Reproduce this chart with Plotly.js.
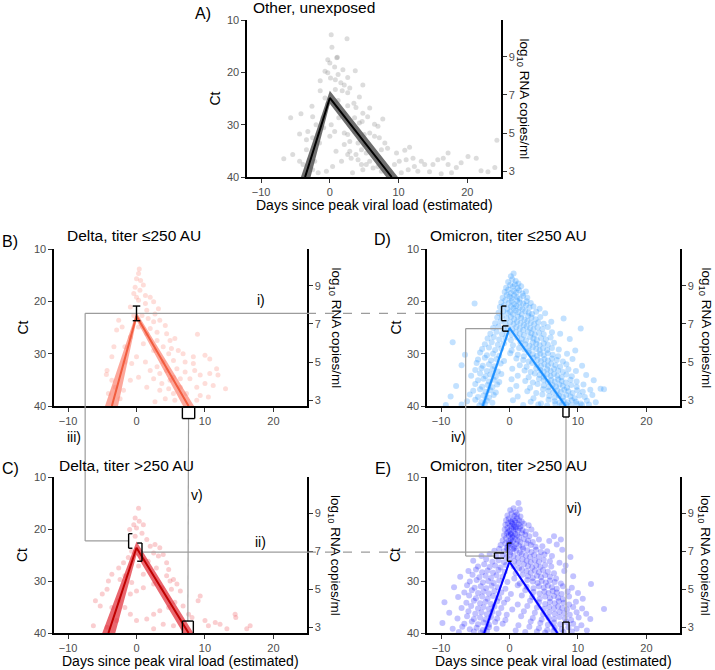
<!DOCTYPE html>
<html><head><meta charset="utf-8">
<script src="https://cdn.plot.ly/plotly-3.0.1.min.js"></script>
<style>html,body{margin:0;padding:0;background:#fff}#chart{width:715px;height:670px}</style>
</head><body><div id="chart"></div>
<script>
// ---------------- data ----------------
const panelLetters = ['A)','B)','C)','D)','E)'];
const panelTitles = ['Other, unexposed','Delta, titer \u2264250 AU','Delta, titer >250 AU','Omicron, titer \u2264250 AU','Omicron, titer >250 AU'];
const xTickVals = [-10, 0, 10, 20];
const ctTickVals = [10, 20, 30, 40];
const rnaTickVals = [3, 5, 7, 9];

// fitted trajectory (A,B,C,D,E)
const riseStart = [-3.6, -3.6, -4.1, -3.9, -3.7];
const peakCt    = [24.9, 22.8, 23.6, 25.1, 26.3];
const clearEnd  = [9.0, 7.6, 7.6, 8.2, 7.0];
// ribbons
const ribOuterStart = [-4.2, -4.6, -5.0, -4.2, -4.0];
const ribOuterPeak  = [23.5, 22.1, 22.4, 24.7, 25.9];
const ribOuterEnd   = [9.9, 8.4, 8.3, 8.5, 7.3];
const ribInnerStart = [-2.8, -2.7, -3.1, -3.6, -3.4];
const ribInnerPeak  = [26.0, 23.6, 25.0, 25.5, 26.7];
const ribInnerEnd   = [8.2, 6.8, 6.8, 7.9, 6.7];

// peak CI error bar for Delta <=250 (day, low, high)
const peakBarB = [0, 20.9, 23.7];
// vertical brackets: panel index, line day, tick day, low Ct, high Ct
const vBrackets = [
  [2, -1.15, -0.6, 20.9, 23.7],
  [2, 0.8, 0.1, 22.7, 26.2],
  [3, -1.16, -0.45, 20.9, 23.7],
  [3, -1.0, -0.15, 24.7, 25.7],
  [4, -2.2, -0.8, 24.6, 25.6],
  [4, -0.3, 0.3, 22.7, 26.2]
];
// clearance brackets: panel index, low day, high day, base Ct, tip Ct
const hBrackets = [
  [1, 6.7, 8.5, 40, 42.4],
  [2, 6.7, 8.3, 40, 37.7],
  [3, 7.8, 8.7, 40, 42.1],
  [4, 7.8, 8.7, 40, 37.9]
];
const compLabels = ['i)','ii)','iii)','iv)','v)','vi)'];

const ptsA = [[0.2,12.8],[2.5,13.6],[0.3,15.2],[1.1,17.1],[1.0,17.2],[-0.3,17.6],[0,18.2],[0.7,19.0],[1.9,19.5],[3.7,19.7],[-0.7,19.8],[-0.3,20.1],[1.2,20.4],[0.1,21.1],[0.8,21.4],[2.6,21.0],[-1.4,21.6],[1.6,22.0],[2.1,22.4],[4.8,22.4],[2.9,23.0],[-1.4,23.5],[0.8,23.3],[1.8,23.5],[2.6,23.9],[-0.7,24.9],[4.3,24.7],[1.2,25.4],[-0.3,26.0],[-2.6,26.5],[2.6,26.4],[3.5,25.9],[3.8,26.7],[5.8,26.8],[-4.2,27.9],[-2.5,28.5],[-5.7,28.7],[-1.0,28.7],[1.3,28.7],[2.1,27.8],[4.8,27.8],[5.5,28.5],[7.7,28.9],[4.7,29.4],[6.5,29.9],[7.0,30.3],[-2.0,30.0],[-3.2,31.3],[-4.4,31.8],[-1.7,31.8],[0,32.2],[2.1,31.6],[2.6,31.9],[3.6,31.3],[5.0,31.9],[5.8,31.6],[6.5,32.2],[7.2,32.5],[-3.4,32.9],[-2.5,32.5],[-1.5,33.5],[2.1,33.8],[2.9,33.2],[4.1,33.5],[5.0,33.8],[8.0,33.5],[0.9,35.1],[2.9,35.1],[3.8,35.7],[4.6,34.8],[5.3,35.4],[7.5,34.8],[8.4,34.5],[-5.4,35.7],[-6.7,36.5],[-4.4,37.0],[-3.9,37.6],[-3.0,38.0],[-2.2,37.0],[-2.5,38.6],[-1.7,39.2],[2.6,35.7],[3.1,36.4],[4.1,36.7],[4.6,37.6],[5.3,37.6],[5.8,37.0],[6.3,38.3],[7.0,38.0],[7.5,38.9],[9.7,35.4],[10.9,34.9],[11.6,34.3],[10.1,37.0],[11.1,36.7],[12.1,36.4],[12.3,38.0],[13.3,37.0],[13.8,37.6],[15.0,37.6],[15.7,36.7],[16.5,36.4],[17.2,35.4],[17.2,37.6],[18.4,38.2],[19.1,37.3],[20.1,36.1],[21.3,36.4],[22.0,38.8],[23.0,39.0],[24.0,38.2],[24.3,33.0],[10.4,39.2],[11.4,38.6],[12.8,38.9],[14.5,39.0],[16.2,39.4],[17.7,39.2],[3.3,39.2],[4.8,38.6],[8.7,39.2],[9.4,37.6],[1.7,37.0],[0.4,38.0],[-0.5,38.9],[-3.0,36.7],[-3.4,34.8],[-0.9,30.6],[0.2,30.0],[0.7,31.3],[3.6,28.7],[4.3,29.7]];

const ptsB = [[0.4,13.8],[0.3,14.7],[0,15.7],[0.6,16.0],[-0.2,17.3],[1.0,16.9],[0.5,17.9],[1.3,18.9],[-0.4,18.5],[2.0,19.2],[0.3,19.8],[2.5,20.1],[3.2,21.4],[1.5,21.7],[-0.9,21.1],[0.8,22.7],[1.7,23.3],[2.5,23.9],[3.4,23.6],[4.2,24.6],[-2.6,23.6],[-2.1,24.9],[-2.9,25.5],[0.3,24.9],[2.0,25.2],[3.0,25.9],[4.4,26.2],[4.9,27.5],[5.6,27.1],[8.9,26.3],[3.0,27.5],[1.0,28.1],[-0.9,26.8],[-1.7,28.7],[-3.3,28.7],[-3.6,30.6],[3.9,28.7],[5.1,29.0],[6.1,29.4],[6.8,30.0],[8.3,30.6],[10.0,30.3],[10.7,31.0],[8.3,31.9],[7.1,31.6],[5.4,31.3],[3.9,31.6],[3.0,32.5],[4.4,33.2],[5.9,32.9],[7.1,33.5],[8.5,33.2],[9.3,34.1],[10.7,33.8],[11.7,32.9],[11.9,34.1],[13.0,36.7],[11.2,36.1],[10.0,35.7],[8.8,36.4],[6.4,34.8],[4.9,35.1],[3.4,33.8],[3.7,35.7],[4.7,36.7],[3.4,37.0],[5.4,37.6],[7.3,37.6],[9.3,38.0],[10.5,38.3],[8.8,38.9],[4.2,38.6],[2.7,39.2],[-3.6,35.1],[-4.3,33.2],[-3.1,36.4],[-4.1,37.6],[-2.4,38.6],[-1.9,37.0],[-0.9,35.1],[-0.7,31.9],[-1.7,31.6],[0,30.6],[1.3,31.6],[2.0,33.2],[2.5,34.8],[1.5,36.4],[0.3,34.5],[5.6,38.9],[6.4,36.4],[7.8,34.8],[5.4,34.5],[4.7,30.0],[2.5,29.4],[1.5,26.2],[-0.4,22.7],[0,19.2],[1.3,20.4],[2.7,22.4],[-4.4,34.0]];

const ptsC = [[0.3,16.0],[-0.2,17.9],[0.4,18.5],[-0.4,19.2],[0,19.8],[1.0,19.2],[-1.0,20.1],[0.8,20.8],[-0.2,21.4],[1.5,22.0],[2.0,23.3],[2.7,23.0],[3.4,23.6],[2.5,24.6],[3.2,25.2],[3.9,24.9],[4.4,26.5],[1.7,26.2],[1.0,25.9],[-0.7,24.3],[-1.2,25.5],[-1.9,26.5],[-2.6,27.5],[-3.6,28.7],[-4.1,30.0],[-2.4,29.7],[-1.7,29.0],[-0.7,30.3],[4.4,29.0],[4.9,30.0],[5.4,29.7],[5.9,30.6],[6.4,31.9],[5.1,31.6],[3.7,31.3],[2.5,30.6],[1.0,31.3],[0,31.9],[-0.9,32.5],[-4.3,31.6],[-5.0,32.5],[-6.0,33.8],[-5.3,34.8],[-3.6,35.1],[-2.6,33.8],[-1.7,35.1],[-0.9,36.4],[0,37.6],[1.5,37.3],[2.5,36.4],[3.4,35.7],[4.7,35.1],[5.6,34.1],[6.8,34.8],[7.6,36.4],[8.1,37.0],[9.3,32.9],[9.0,33.8],[10.0,37.6],[10.5,38.6],[11.5,38.0],[12.2,38.3],[14.4,36.4],[14.5,37.0],[13.2,39.2],[16.1,39.2],[16.6,38.6],[3.9,38.3],[5.4,38.6],[2.5,39.2],[-2.9,37.6],[-4.3,38.9],[-6.3,38.6],[1.0,28.7],[0.3,27.1],[2.9,27.5],[4.7,27.8]];

const ptsD = [[0.2,15.2],[0.6,14.7],[-0.2,16.3],[0.4,15.8],[0.9,16.1],[1.3,16.6],[-0.5,17.4],[0.1,16.9],[0.5,17.2],[0.8,16.8],[1.2,17.5],[1.7,17.1],[-0.7,18.2],[-0.2,17.8],[0.2,18.4],[0.6,18.0],[1.0,18.3],[1.4,17.9],[1.9,18.5],[2.4,18.1],[-1.0,19.3],[-0.4,18.8],[0.0,19.1],[0.3,19.4],[0.7,18.9],[1.1,19.2],[1.5,19.5],[2.0,19.0],[2.6,19.3],[-5.1,20.4],[-1.2,20.2],[-0.6,19.8],[-0.1,20.3],[0.3,20.0],[0.7,20.5],[1.1,19.9],[1.5,20.2],[2.0,20.4],[2.5,20.0],[3.1,20.3],[-1.4,21.1],[-0.8,20.8],[-0.3,21.4],[0.2,21.0],[0.6,21.3],[1.0,20.9],[1.5,21.2],[1.9,21.5],[2.4,20.8],[2.9,21.2],[3.5,21.0],[4.4,21.4],[-1.6,22.2],[-0.9,21.9],[-0.3,22.3],[0.1,22.0],[0.5,22.4],[0.9,21.8],[1.3,22.1],[1.8,22.5],[2.3,21.9],[2.8,22.2],[3.3,22.4],[3.9,22.0],[5.2,22.3],[-1.8,23.1],[-1.1,22.8],[-0.4,23.3],[0.2,23.0],[0.7,23.4],[1.2,22.9],[1.7,23.2],[2.2,23.5],[2.7,22.8],[3.2,23.1],[3.8,23.4],[4.5,23.0],[7.9,23.3],[-2.1,24.2],[-1.3,23.8],[-0.6,24.3],[0.1,24.0],[0.6,24.4],[1.1,23.9],[1.6,24.2],[2.1,24.5],[2.6,23.8],[3.1,24.1],[3.6,24.4],[4.2,24.0],[5.0,24.3],[6.1,23.9],[-2.4,25.1],[-1.6,24.8],[-0.9,25.3],[-0.2,25.0],[0.4,25.4],[1.0,24.9],[1.5,25.2],[2.0,25.5],[2.5,24.8],[3.0,25.1],[3.5,25.4],[4.1,25.0],[4.8,25.3],[5.6,24.9],[10.4,25.2],[-2.8,26.2],[-1.9,25.8],[-1.1,26.3],[-0.4,26.0],[0.3,26.4],[0.9,25.9],[1.5,26.2],[2.1,26.5],[2.7,25.8],[3.2,26.1],[3.7,26.4],[4.3,26.0],[5.0,26.3],[6.2,25.9],[7.4,26.2],[-3.2,27.1],[-2.3,26.8],[-1.5,27.3],[-0.6,27.0],[0.2,27.4],[1.1,26.9],[1.8,27.2],[2.4,27.5],[3.0,26.8],[3.5,27.1],[4.0,27.4],[4.6,27.0],[5.3,27.3],[6.0,26.9],[8.8,27.2],[-8.3,27.8],[-3.6,28.2],[-2.6,27.8],[-1.7,28.3],[-0.8,28.0],[0.5,28.4],[1.6,27.9],[2.3,28.2],[2.9,28.5],[3.4,27.8],[3.9,28.1],[4.4,28.4],[5.0,28.0],[5.6,28.3],[6.5,27.9],[-4.0,29.1],[-3.0,28.8],[-2.1,29.3],[-1.2,29.0],[0.3,29.4],[1.4,28.9],[2.2,29.2],[2.8,29.5],[3.4,28.8],[3.9,29.1],[4.4,29.4],[4.9,29.0],[5.5,29.3],[6.2,28.9],[7.2,29.2],[9.6,29.4],[-6.5,30.2],[-4.3,29.8],[-3.3,30.3],[-2.4,30.0],[-1.5,30.4],[0.1,29.9],[1.2,30.2],[2.1,30.5],[2.8,29.8],[3.4,30.1],[4.0,30.4],[4.5,30.0],[5.0,30.3],[5.6,29.9],[6.3,30.2],[7.1,30.5],[8.4,30.0],[-4.6,31.1],[-3.6,30.8],[-2.7,31.3],[-1.9,31.0],[-0.8,31.4],[1.0,30.9],[2.0,31.2],[2.8,31.5],[3.5,30.8],[4.1,31.1],[4.6,31.4],[5.1,31.0],[5.6,31.3],[6.2,30.9],[6.9,31.2],[7.8,31.5],[9.2,31.0],[-7.0,32.2],[-4.8,31.8],[-3.9,32.3],[-3.0,32.0],[-2.2,32.4],[-1.3,31.9],[1.5,32.2],[2.5,32.5],[3.3,31.8],[4.0,32.1],[4.6,32.4],[5.1,32.0],[5.6,32.3],[6.1,31.9],[6.7,32.2],[7.4,32.5],[8.3,32.0],[10.6,32.3],[-5.0,33.1],[-4.1,32.8],[-3.3,33.3],[-2.5,33.0],[-1.7,33.4],[0.4,32.9],[2.2,33.2],[3.1,33.5],[3.9,32.8],[4.5,33.1],[5.0,33.4],[5.5,33.0],[6.0,33.3],[6.5,32.9],[7.1,33.2],[7.8,33.5],[8.6,33.0],[9.7,33.3],[-5.6,34.2],[-4.3,33.8],[-3.5,34.3],[-2.8,34.0],[-2.0,34.4],[-1.2,33.9],[1.2,34.2],[2.8,34.5],[3.7,33.8],[4.4,34.1],[5.0,34.4],[5.5,34.0],[6.0,34.3],[6.5,33.9],[7.0,34.2],[7.6,34.5],[8.3,34.0],[9.1,34.3],[11.2,34.1],[-4.6,35.1],[-3.8,34.8],[-3.0,35.3],[-2.3,35.0],[-1.5,35.4],[0.3,34.9],[2.3,35.2],[3.4,35.5],[4.3,34.8],[5.0,35.1],[5.6,35.4],[6.1,35.0],[6.6,35.3],[7.1,34.9],[7.6,35.2],[8.2,35.5],[8.9,35.0],[9.8,35.3],[12.3,35.1],[-7.8,36.2],[-5.0,35.8],[-4.0,36.3],[-3.2,36.0],[-2.5,36.4],[-1.8,35.9],[1.0,36.2],[3.0,36.5],[4.1,35.8],[5.0,36.1],[5.7,36.4],[6.3,36.0],[6.8,36.3],[7.3,35.9],[7.8,36.2],[8.4,36.5],[9.0,36.0],[9.8,36.3],[10.8,35.9],[13.3,36.7],[-5.3,37.1],[-4.3,36.8],[-3.5,37.3],[-2.8,37.0],[-2.0,37.4],[0.1,36.9],[2.6,37.2],[3.9,37.5],[4.9,36.8],[5.7,37.1],[6.4,37.4],[7.0,37.0],[7.5,37.3],[8.0,36.9],[8.6,37.2],[9.2,37.5],[9.9,37.0],[10.7,37.3],[11.8,36.9],[13.8,36.8],[-8.6,38.2],[-5.8,37.8],[-4.6,38.3],[-3.8,38.0],[-3.0,38.4],[-2.3,37.9],[1.2,38.2],[3.5,38.5],[4.8,37.8],[5.8,38.1],[6.6,38.4],[7.2,38.0],[7.8,38.3],[8.3,37.9],[8.9,38.2],[9.5,38.5],[10.2,38.0],[11.0,38.3],[12.1,37.9],[-6.2,39.1],[-5.0,38.8],[-4.1,39.3],[-3.3,39.0],[-2.5,39.4],[0.5,38.9],[3.1,39.2],[4.6,39.5],[5.7,38.8],[6.6,39.1],[7.3,39.4],[7.9,39.0],[8.5,39.3],[9.1,38.9],[9.7,39.2],[10.4,39.5],[11.3,39.0],[12.6,39.3],[-9.3,39.8],[-7.0,39.7],[-4.4,39.9],[-3.6,39.6],[2.0,39.8],[4.2,39.7],[5.5,39.9],[6.7,39.6],[7.6,39.8],[8.3,39.7],[9.0,39.9],[9.8,39.6],[10.6,39.8],[11.6,39.7]];

const ptsE = [[1.3,15.0],[0.6,16.0],[0.1,16.4],[0.9,16.8],[1.5,16.2],[-0.3,17.4],[0.3,17.0],[0.7,17.5],[1.1,17.2],[1.6,17.6],[-0.5,18.3],[-0.1,18.0],[0.2,18.5],[0.5,18.1],[0.8,18.4],[1.1,17.9],[1.4,18.3],[1.8,18.6],[-0.6,19.2],[-0.2,18.9],[0.1,19.4],[0.4,19.0],[0.7,19.3],[1.0,18.8],[1.3,19.1],[1.6,19.5],[2.1,19.0],[2.8,19.3],[-0.7,20.1],[-0.3,19.8],[0.0,20.3],[0.3,19.9],[0.6,20.4],[0.9,20.0],[1.2,20.3],[1.5,19.8],[1.9,20.2],[2.4,20.5],[3.2,20.1],[-0.8,21.2],[-0.4,20.8],[-0.1,21.3],[0.2,21.0],[0.5,21.4],[0.8,20.9],[1.1,21.2],[1.4,21.5],[1.8,20.8],[2.3,21.1],[2.9,21.4],[3.8,21.0],[6.5,21.4],[7.5,22.0],[-1.0,22.2],[-0.5,21.8],[-0.1,22.3],[0.2,22.0],[0.5,22.4],[0.8,21.9],[1.2,22.2],[1.6,22.5],[2.1,21.9],[2.7,22.2],[3.4,22.5],[4.3,22.0],[5.8,22.3],[-1.3,23.1],[-0.6,22.8],[-0.2,23.3],[0.2,23.0],[0.6,23.4],[1.0,22.9],[1.4,23.2],[1.9,23.5],[2.5,22.8],[3.1,23.1],[3.8,23.4],[4.8,23.3],[6.9,23.0],[-2.2,24.2],[-1.5,23.8],[-0.8,24.3],[-0.3,24.0],[0.1,24.4],[0.5,23.9],[1.0,24.2],[1.5,24.5],[2.0,23.8],[2.6,24.1],[3.2,24.4],[3.9,24.0],[4.6,24.4],[5.5,24.3],[7.7,24.0],[-4.1,25.2],[-2.9,24.8],[-1.9,25.3],[-1.0,25.0],[-0.4,25.4],[0.1,24.9],[0.6,25.2],[1.2,25.5],[1.8,24.8],[2.4,25.1],[3.0,25.4],[3.6,25.0],[4.3,25.3],[5.1,24.9],[6.2,25.2],[8.9,25.4],[-5.3,26.1],[-3.4,25.8],[-2.5,26.3],[-1.6,26.0],[-0.8,26.4],[0.0,25.9],[0.7,26.2],[1.3,26.5],[1.9,25.8],[2.5,26.1],[3.1,26.4],[3.7,26.0],[4.3,26.3],[5.0,25.9],[5.9,26.2],[7.3,26.5],[-4.6,27.2],[-3.7,26.8],[-2.9,27.3],[-2.1,27.0],[-1.3,27.4],[-0.5,26.9],[0.6,27.2],[1.4,27.5],[2.1,26.8],[2.7,27.1],[3.3,27.4],[3.9,27.0],[4.5,27.3],[5.2,26.9],[6.1,27.2],[8.2,27.0],[-6.0,28.1],[-4.9,27.8],[-4.0,28.3],[-3.2,28.0],[-2.4,28.4],[-1.6,27.9],[-0.7,28.2],[0.9,28.5],[1.8,27.8],[2.5,28.1],[3.1,28.4],[3.7,28.0],[4.3,28.3],[4.9,27.9],[5.6,28.2],[6.5,28.5],[8.0,28.1],[-7.2,29.2],[-5.4,28.8],[-4.4,29.3],[-3.5,29.0],[-2.7,29.4],[-1.9,28.9],[-1.0,29.2],[0.7,29.5],[1.9,28.8],[2.7,29.1],[3.4,29.4],[4.0,29.0],[4.6,29.3],[5.2,28.9],[5.9,29.2],[6.8,29.5],[9.3,29.1],[-5.8,30.1],[-4.8,29.8],[-3.9,30.3],[-3.1,30.0],[-2.3,30.4],[-1.5,29.9],[-0.3,30.2],[1.5,30.5],[2.6,29.8],[3.4,30.1],[4.1,30.4],[4.7,30.0],[5.3,30.3],[5.9,29.9],[6.6,30.2],[7.5,30.5],[11.9,30.6],[-8.1,31.2],[-6.2,30.8],[-5.1,31.3],[-4.2,31.0],[-3.4,31.4],[-2.6,30.9],[-1.7,31.2],[-0.6,31.5],[1.2,30.8],[2.5,31.1],[3.5,31.4],[4.3,31.0],[5.0,31.3],[5.6,30.9],[6.2,31.2],[6.9,31.5],[7.8,31.0],[9.1,31.3],[-6.6,32.2],[-5.5,31.8],[-4.6,32.3],[-3.8,32.0],[-3.0,32.4],[-2.2,31.9],[-1.2,32.2],[0.2,32.5],[2.3,31.8],[3.5,32.1],[4.4,32.4],[5.1,32.0],[5.7,32.3],[6.3,31.9],[6.9,32.2],[7.6,32.5],[8.5,32.0],[10.0,32.3],[-7.5,33.1],[-5.9,32.8],[-4.9,33.3],[-4.0,33.0],[-3.2,33.4],[-2.4,32.9],[-1.5,33.2],[-0.3,33.5],[1.8,32.8],[3.3,33.1],[4.4,33.4],[5.2,33.0],[5.9,33.3],[6.5,32.9],[7.1,33.2],[7.8,33.5],[8.7,33.0],[10.7,33.4],[-9.5,34.1],[-6.3,34.2],[-5.2,33.8],[-4.3,34.3],[-3.5,34.0],[-2.7,34.4],[-1.8,33.9],[-0.8,34.2],[1.2,34.5],[3.0,33.8],[4.3,34.1],[5.2,34.4],[5.9,34.0],[6.6,34.3],[7.2,33.9],[7.9,34.2],[8.7,34.5],[9.7,34.0],[-7.0,35.2],[-5.6,34.8],[-4.6,35.3],[-3.8,35.0],[-3.0,35.4],[-2.2,34.9],[-1.2,35.2],[0.4,35.5],[2.6,34.8],[4.0,35.1],[5.0,35.4],[5.8,35.0],[6.5,35.3],[7.1,34.9],[7.7,35.2],[8.4,35.5],[9.3,35.0],[10.6,35.3],[13.8,35.4],[-8.8,36.1],[-6.0,35.8],[-5.0,36.3],[-4.1,36.0],[-3.3,36.4],[-2.5,35.9],[-1.6,36.2],[-0.4,36.5],[2.1,35.8],[3.7,36.1],[4.9,36.4],[5.8,36.0],[6.6,36.3],[7.3,35.9],[8.0,36.2],[8.8,36.5],[9.8,36.0],[11.2,36.3],[-7.6,37.2],[-6.2,36.8],[-5.2,37.3],[-4.3,37.0],[-3.5,37.4],[-2.7,36.9],[-1.8,37.2],[-0.6,37.5],[1.7,36.8],[3.4,37.1],[4.7,37.4],[5.7,37.0],[6.5,37.3],[7.3,36.9],[8.1,37.2],[9.0,37.5],[10.1,37.0],[11.8,37.3],[-9.8,38.1],[-6.6,38.2],[-5.5,37.8],[-4.6,38.3],[-3.8,38.0],[-3.0,38.4],[-2.1,37.9],[-1.0,38.2],[1.3,38.5],[3.1,37.8],[4.5,38.1],[5.6,38.4],[6.5,38.0],[7.4,38.3],[8.3,37.9],[9.3,38.2],[10.5,38.5],[-8.3,39.2],[-6.9,38.8],[-5.8,39.3],[-4.8,39.0],[-3.9,39.4],[-3.0,38.9],[-1.9,39.2],[0.9,39.5],[2.9,38.8],[4.3,39.1],[5.5,39.4],[6.6,39.0],[7.6,39.3],[8.6,38.9],[9.8,39.2],[11.3,39.5],[-7.4,39.8],[-5.2,39.7],[-4.2,39.9],[-3.3,39.6],[2.3,39.8],[4.0,39.7],[5.2,39.9],[6.4,39.6],[7.9,39.8],[9.1,39.7],[0.3,18.7],[0.6,19.6],[-0.2,20.6],[0.4,21.6],[0.1,22.6],[0.7,23.7],[-0.4,23.6],[0.9,19.6],[0.2,20.9],[-0.1,22.9]];

const panelPoints = [ptsA, ptsB, ptsC, ptsD, ptsE];

// ---------------- layout geometry & style ----------------
const W = 715, H = 670;
const xRange = [-12.05, 24.9];
const ctRange = [40, 10];
const rnaRange = [2.70, 10.93];
// pixel boxes [left, right, top, bottom] for A,B,C,D,E
const boxes = [[247,501,20,177],[54,307,249,406],[54,307,477,633],[427,680,249,406],[427,680,477,633]];
const pointColors = ['rgba(120,120,120,0.26)','rgba(250,125,110,0.26)','rgba(238,80,85,0.28)','rgba(30,144,255,0.27)','rgba(0,0,255,0.24)'];
const pointSizes = [5, 5, 5, 6, 6];
const ribbonColors = ['rgba(85,85,85,0.85)','rgba(250,110,90,0.6)','rgba(225,45,55,0.72)','rgba(30,144,255,0.35)','rgba(0,0,255,0.3)'];
const lineColors = ['#000000','#f25c3e','#c00000','#1e90ff','#0000ff'];
const FONT = 'Liberation Sans, Arial, Helvetica, sans-serif';

function px(i, day){ const b = boxes[i]; return (b[0] + (day - xRange[0])/(xRange[1]-xRange[0])*(b[1]-b[0]))/W; }
function py(i, ct){ const b = boxes[i]; return 1 - (b[2] + (ct - 10)/30*(b[3]-b[2]))/H; }
function PX(x){ return x/W; }
function PY(y){ return 1 - y/H; }

const data = [];
const layout = {
  width: W, height: H, autosize: false,
  margin: {l:0, r:0, t:0, b:0},
  paper_bgcolor: '#fff', plot_bgcolor: 'rgba(0,0,0,0)',
  showlegend: false,
  font: {family: FONT, color: '#000'},
  shapes: [], annotations: []
};

const ctTitleX = [214, 22, 22, 395, 395];
const rnaTitleX = [523, 335, 335, 705, 705];

for (let i = 0; i < 5; i++) {
  const n = i + 1;
  const xs = n === 1 ? '' : String(n);
  const b = boxes[i];
  const xdom = [b[0]/W, b[1]/W];
  const ydom = [1 - b[3]/H, 1 - b[2]/H];
  const axCommon = {
    showline: true, linecolor: '#000', linewidth: 1.6,
    ticks: 'outside', ticklen: 4, tickwidth: 1, tickcolor: '#333',
    tickfont: {family: FONT, size: 11, color: '#4d4d4d'},
    showgrid: false, zeroline: false, fixedrange: true
  };
  layout['xaxis' + xs] = Object.assign({}, axCommon, {
    domain: xdom, range: xRange, anchor: 'y' + xs, tickmode: 'array', tickvals: xTickVals
  });
  layout['yaxis' + xs] = Object.assign({}, axCommon, {
    domain: ydom, range: ctRange, anchor: 'x' + xs, tickmode: 'array', tickvals: ctTickVals
  });
  layout['yaxis' + (n + 5)] = Object.assign({}, axCommon, {
    domain: ydom, range: rnaRange, anchor: 'x' + xs, overlaying: 'y' + xs, side: 'right',
    tickmode: 'array', tickvals: rnaTickVals
  });

  const pts = panelPoints[i];
  data.push({
    type: 'scatter', mode: 'markers', xaxis: 'x' + xs, yaxis: 'y' + xs,
    x: pts.map(p => p[0]), y: pts.map(p => p[1]),
    marker: {size: pointSizes[i], color: pointColors[i], line: {width: 0}},
    hoverinfo: 'skip'
  });
  data.push({
    type: 'scatter', mode: 'lines', fill: 'toself', xaxis: 'x' + xs, yaxis: 'y' + xs,
    x: [ribOuterStart[i], 0, ribOuterEnd[i], ribInnerEnd[i], 0, ribInnerStart[i], ribOuterStart[i]],
    y: [40, ribOuterPeak[i], 40, 40, ribInnerPeak[i], 40, 40],
    fillcolor: ribbonColors[i], line: {width: 0}, hoverinfo: 'skip'
  });
  data.push({
    type: 'scatter', mode: 'lines', xaxis: 'x' + xs, yaxis: 'y' + xs,
    x: [riseStart[i], 0, clearEnd[i]], y: [40, peakCt[i], 40],
    line: {color: lineColors[i], width: 2}, hoverinfo: 'skip'
  });
  data.push({
    type: 'scatter', mode: 'markers', xaxis: 'x' + xs, yaxis: 'y' + (n + 5),
    x: [], y: [], hoverinfo: 'skip', showlegend: false
  });

  const cy = (b[2] + b[3]) / 2;
  layout.annotations.push({xref:'paper', yref:'paper', x: PX(ctTitleX[i]), y: PY(cy),
    text: 'Ct', textangle: -90, showarrow: false, xanchor: 'center', yanchor: 'middle',
    font: {family: FONT, size: 14, color: '#000'}});
  layout.annotations.push({xref:'paper', yref:'paper', x: PX(rnaTitleX[i]), y: PY(cy),
    text: 'log<sub>10</sub> RNA copies/ml', textangle: 90, showarrow: false,
    xanchor: 'center', yanchor: 'middle', font: {family: FONT, size: 13.5, color: '#000'}});
}

// x-axis titles (A, C, E)
[[0, 205], [2, 661], [4, 661]].forEach(function (d) {
  const b = boxes[d[0]];
  layout.annotations.push({xref:'paper', yref:'paper', x: PX((b[0]+b[1])/2), y: PY(d[1]),
    text: 'Days since peak viral load (estimated)', showarrow: false,
    xanchor: 'center', yanchor: 'middle', font: {family: FONT, size: 14, color: '#000'}});
});
// panel letters and titles
const letterPos = [[193, 14], [0, 241], [0, 468], [372, 240], [373, 468]];
const titlePos = [[251, 7], [65, 235], [57, 465], [428, 235], [428, 465]];
for (let i = 0; i < 5; i++) {
  layout.annotations.push({xref:'paper', yref:'paper', x: PX(letterPos[i][0]), y: PY(letterPos[i][1]),
    text: panelLetters[i], showarrow: false, xanchor: 'left', yanchor: 'middle',
    font: {family: FONT, size: 16, color: '#000'}});
  layout.annotations.push({xref:'paper', yref:'paper', x: PX(titlePos[i][0]), y: PY(titlePos[i][1]),
    text: panelTitles[i], showarrow: false, xanchor: 'left', yanchor: 'middle',
    font: {family: FONT, size: 15.5, color: '#000'}});
}
// comparison labels
const compPos = [[261, 300], [260, 542], [74, 437], [458, 437], [197, 495], [574, 508]];
compLabels.forEach(function (t, k) {
  layout.annotations.push({xref:'paper', yref:'paper', x: PX(compPos[k][0]), y: PY(compPos[k][1]),
    text: t, showarrow: false, xanchor: 'center', yanchor: 'middle',
    font: {family: FONT, size: 14, color: '#000'}});
});

// ---------------- connectors and brackets ----------------
function seg(i0, d0, c0, i1, d1, c1, color, width, dash) {
  layout.shapes.push({type:'line', xref:'paper', yref:'paper',
    x0: px(i0, d0), y0: py(i0, c0), x1: px(i1, d1), y1: py(i1, c1),
    line: {color: color, width: width, dash: dash || 'solid'}});
}
const GREY = '#9c9c9c';
const bMid = (peakBarB[1] + peakBarB[2]) / 2;
const cMid = (vBrackets[1][3] + vBrackets[1][4]) / 2;
const dMid = (vBrackets[3][3] + vBrackets[3][4]) / 2;
// i)
seg(1, -7.5, bMid, 1, xRange[1], bMid, GREY, 1.2);
seg(1, xRange[1], bMid, 3, xRange[0], bMid, GREY, 1.2, 'dash');
seg(3, xRange[0], bMid, 3, vBrackets[2][1], bMid, GREY, 1.2);
// iii)
seg(1, -7.5, bMid, 2, -7.5, bMid, GREY, 1.2);
seg(2, -7.5, bMid, 2, vBrackets[0][1], bMid, GREY, 1.2);
// ii)
seg(2, vBrackets[1][1], cMid, 2, xRange[1], cMid, GREY, 1.2);
seg(2, xRange[1], cMid, 4, xRange[0], cMid, GREY, 1.2, 'dash');
seg(4, xRange[0], cMid, 4, vBrackets[5][1], cMid, GREY, 1.2);
// iv)
seg(3, -6.4, dMid, 3, vBrackets[3][1], dMid, GREY, 1.2);
seg(3, -6.4, dMid, 4, -6.4, dMid, GREY, 1.2);
seg(4, -6.4, dMid, 4, vBrackets[4][1], dMid, GREY, 1.2);
// v) and vi)
seg(1, (hBrackets[0][1]+hBrackets[0][2])/2, hBrackets[0][4], 2, (hBrackets[1][1]+hBrackets[1][2])/2, hBrackets[1][4], GREY, 1.2);
seg(3, (hBrackets[2][1]+hBrackets[2][2])/2, hBrackets[2][4], 4, (hBrackets[3][1]+hBrackets[3][2])/2, hBrackets[3][4], GREY, 1.2);

// black brackets
const BK = '#000';
seg(1, peakBarB[0], peakBarB[1], 1, peakBarB[0], peakBarB[2], BK, 1.4);
seg(1, peakBarB[0]-0.55, peakBarB[1], 1, peakBarB[0]+0.55, peakBarB[1], BK, 1.4);
seg(1, peakBarB[0]-0.55, peakBarB[2], 1, peakBarB[0]+0.55, peakBarB[2], BK, 1.4);
vBrackets.forEach(function (v) {
  seg(v[0], v[1], v[3], v[0], v[1], v[4], BK, 1.4);
  seg(v[0], v[1], v[3], v[0], v[2], v[3], BK, 1.4);
  seg(v[0], v[1], v[4], v[0], v[2], v[4], BK, 1.4);
});
hBrackets.forEach(function (h) {
  seg(h[0], h[1], h[3], h[0], h[1], h[4], BK, 1.4);
  seg(h[0], h[2], h[3], h[0], h[2], h[4], BK, 1.4);
  seg(h[0], h[1], h[4], h[0], h[2], h[4], BK, 1.4);
});

Plotly.newPlot('chart', data, layout, {displayModeBar: false, staticPlot: true});
</script>
</body></html>
